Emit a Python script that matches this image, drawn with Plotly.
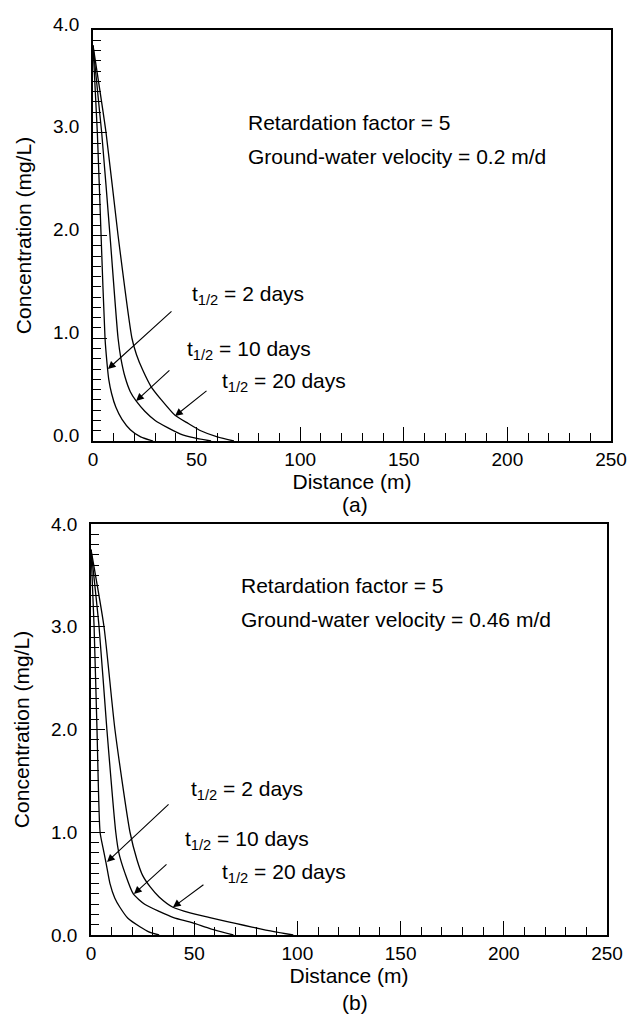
import plotly.graph_objects as go

# ---- data ----
# Panel (a): velocity 0.2 m/d
a_x_2d = [0, 2.1, 3.9, 5.8, 6.8, 7.6, 9, 11, 14, 18, 23, 29]
a_y_2d = [3.85, 3.0, 2.0, 1.0, 0.75, 0.6, 0.46, 0.33, 0.21, 0.11, 0.04, 0]
a_x_10d = [0, 4.2, 8.2, 12.1, 13.5, 15.5, 18, 20.8, 25, 30, 36, 42, 49, 57]
a_y_10d = [3.85, 3.0, 2.0, 1.0, 0.8, 0.62, 0.48, 0.39, 0.29, 0.2, 0.13, 0.07, 0.03, 0]
a_x_20d = [0, 6.3, 12.1, 18.8, 21, 24, 28, 33, 39.6, 46, 52, 60, 68]
a_y_20d = [3.85, 3.0, 2.0, 1.0, 0.84, 0.69, 0.53, 0.40, 0.25, 0.17, 0.10, 0.04, 0]

# Panel (b): velocity 0.46 m/d
b_x_2d = [0, 1.5, 2.9, 4.4, 5.8, 7.3, 9.2, 11.5, 14, 18, 23.7, 28, 33]
b_y_2d = [3.75, 3.0, 2.0, 1.0, 0.85, 0.7, 0.5, 0.36, 0.27, 0.16, 0.08, 0.03, 0]
b_x_10d = [0, 3.9, 7.7, 12, 13.5, 16.5, 20.5, 26, 33, 40, 49, 58, 69]
b_y_10d = [3.75, 3.0, 2.0, 1.0, 0.8, 0.6, 0.4, 0.3, 0.23, 0.17, 0.12, 0.06, 0]
b_x_20d = [0, 6.3, 11.6, 18.9, 22.3, 25, 28.6, 33, 39.7, 48, 57.6, 66, 74, 82, 90, 98]
b_y_20d = [3.75, 3.0, 2.0, 1.0, 0.73, 0.58, 0.47, 0.37, 0.27, 0.215, 0.17, 0.13, 0.095, 0.06, 0.027, 0]

x_ticks = [0, 50, 100, 150, 200, 250]
y_ticks = [0, 1, 2, 3, 4]
y_tick_labels = ["0.0", "1.0", "2.0", "3.0", "4.0"]
half_life_labels = ["t<sub>1/2</sub> = 2 days", "t<sub>1/2</sub> = 10 days", "t<sub>1/2</sub> = 20 days"]
param_a = ["Retardation factor = 5", "Ground-water velocity = 0.2 m/d"]
param_b = ["Retardation factor = 5", "Ground-water velocity = 0.46 m/d"]

FONT = "Liberation Sans, Arial, sans-serif"
LINE = dict(color="black", width=1.3)

fig = go.Figure()
for xs, ys in [(a_x_2d, a_y_2d), (a_x_10d, a_y_10d), (a_x_20d, a_y_20d)]:
    fig.add_trace(go.Scatter(x=xs, y=ys, mode="lines", line=dict(shape="spline", smoothing=0.6, **LINE),
                             xaxis="x", yaxis="y", showlegend=False, hoverinfo="skip"))
for xs, ys in [(b_x_2d, b_y_2d), (b_x_10d, b_y_10d), (b_x_20d, b_y_20d)]:
    fig.add_trace(go.Scatter(x=xs, y=ys, mode="lines", line=dict(shape="spline", smoothing=0.6, **LINE),
                             xaxis="x2", yaxis="y2", showlegend=False, hoverinfo="skip"))

W, H = 636, 1015

def xaxis_cfg(domain, anchor):
    return dict(domain=domain, anchor=anchor, range=[0, 250], tickvals=x_ticks, automargin=False,
                ticks="inside", ticklen=14, tickwidth=1.3, tickcolor="black",
                minor=dict(ticks="inside", ticklen=8, dtick=10, tick0=0, tickwidth=1.3, tickcolor="black"),
                showline=True, linecolor="black", linewidth=1.6, mirror=True,
                showgrid=False, zeroline=False,
                tickfont=dict(family=FONT, size=19, color="black"),
                title=dict(text="Distance (m)", font=dict(family=FONT, size=21, color="black"), standoff=4))

def yaxis_cfg(domain, anchor, shift):
    return dict(domain=domain, anchor=anchor, range=[0, 4], tickvals=y_ticks, ticktext=y_tick_labels,
                automargin=False,
                ticks="inside", ticklen=14, tickwidth=1.3, tickcolor="black",
                minor=dict(ticks="inside", ticklen=8, dtick=0.1, tick0=0, tickwidth=1.3, tickcolor="black"),
                showline=True, linecolor="black", linewidth=1.6, mirror=True,
                showgrid=False, zeroline=False, ticklabelshift=shift, ticklabelstandoff=8,
                tickfont=dict(family=FONT, size=19, color="black"),
                title=dict(text="Concentration (mg/L)", font=dict(family=FONT, size=21, color="black"), standoff=16))

fig.update_layout(
    width=W, height=H, margin=dict(l=0, r=0, t=0, b=0, autoexpand=False),
    paper_bgcolor="white", plot_bgcolor="white",
    font=dict(family=FONT, color="black"),
    xaxis=xaxis_cfg([93 / W, 611 / W], "y"),
    yaxis=yaxis_cfg([1 - 441 / H, 1 - 30 / H], "x", -6),
    xaxis2=xaxis_cfg([91 / W, 607 / W], "y2"),
    yaxis2=yaxis_cfg([1 - 935 / H, 1 - 524 / H], "x2", 0),
)

TXT = dict(family=FONT, size=21, color="black")
anns = []
# parameter text
anns += [dict(x=73.8, y=3.095, xref="x", yref="y", text=param_a[0]),
         dict(x=73.8, y=2.764, xref="x", yref="y", text=param_a[1]),
         dict(x=71.7, y=3.406, xref="x2", yref="y2", text=param_b[0]),
         dict(x=71.7, y=3.066, xref="x2", yref="y2", text=param_b[1])]
# curve labels
anns += [dict(x=46.8, y=1.42, xref="x", yref="y", text=half_life_labels[0]),
         dict(x=44.4, y=0.89, xref="x", yref="y", text=half_life_labels[1]),
         dict(x=61.3, y=0.57, xref="x", yref="y", text=half_life_labels[2]),
         dict(x=47.5, y=1.41, xref="x2", yref="y2", text=half_life_labels[0]),
         dict(x=44.6, y=0.92, xref="x2", yref="y2", text=half_life_labels[1]),
         dict(x=62.5, y=0.60, xref="x2", yref="y2", text=half_life_labels[2])]
for a in anns:
    a.update(showarrow=False, xanchor="left", yanchor="middle", font=TXT)

# arrows: (tip_x, tip_y, tail_x, tail_y)
arrows_a = [(7.2, 0.70, 38.6, 1.275), (20.8, 0.39, 37.6, 0.70), (39.6, 0.243, 55.5, 0.50)]
arrows_b = [(7.75, 0.71, 38.3, 1.285), (20.8, 0.40, 37.3, 0.70), (39.7, 0.27, 55.2, 0.50)]
for (xr, yr), arr in [(("x", "y"), arrows_a), (("x2", "y2"), arrows_b)]:
    for tx, ty, sx, sy in arr:
        anns.append(dict(x=tx, y=ty, ax=sx, ay=sy, xref=xr, yref=yr, axref=xr, ayref=yr,
                         text="", showarrow=True, arrowhead=2, arrowsize=1.4, arrowwidth=1.1,
                         arrowcolor="black", standoff=0))

# panel letters
anns += [dict(x=355 / W, y=1 - 505 / H, xref="paper", yref="paper", text="(a)", showarrow=False,
              xanchor="center", yanchor="middle", font=TXT),
         dict(x=355 / W, y=1 - 1002 / H, xref="paper", yref="paper", text="(b)", showarrow=False,
              xanchor="center", yanchor="middle", font=TXT)]
fig.update_layout(annotations=anns)

fig.write_html("out.html", config={"displayModeBar": False},
               post_script="document.body.style.margin='0';document.body.style.overflow='hidden';")
